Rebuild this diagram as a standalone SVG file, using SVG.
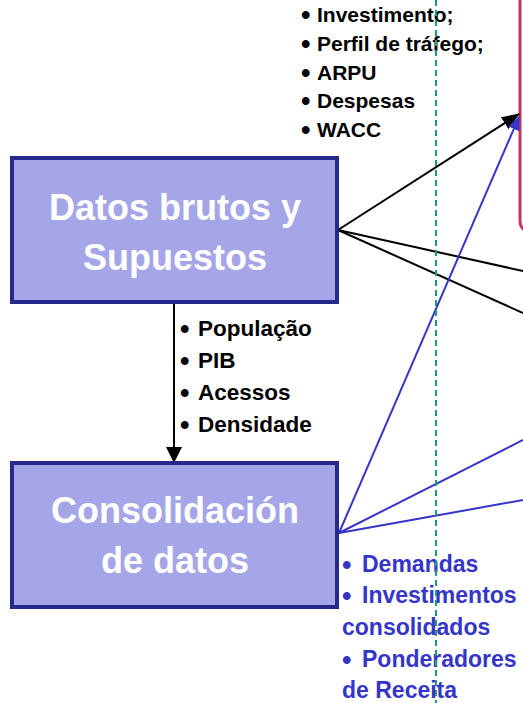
<svg xmlns="http://www.w3.org/2000/svg" width="523" height="703" viewBox="0 0 523 703">
<defs>
<style>
.box{fill:#a4a6e8;stroke:#252a8a;stroke-width:4}
.title{font-family:"Liberation Sans",Arial,sans-serif;font-weight:bold;font-size:36px;fill:#ffffff;text-anchor:middle}
.lbl{font-family:"Liberation Sans",Arial,sans-serif;font-weight:bold;font-size:22.5px;fill:#000}
.top{font-size:21px}
.blue{fill:#3535c8;font-size:23px}
.bu{font-size:27px}
.bk{stroke:#000;stroke-width:2;fill:none}
.bl{stroke:#3535c8;stroke-width:2;fill:none}
</style>
<marker id="ahbig" markerWidth="18" markerHeight="14" refX="17" refY="7" orient="auto" markerUnits="userSpaceOnUse" viewBox="0 0 18 14">
<path d="M0,0 L18,7 L0,14 z" fill="#000"/>
</marker>
<marker id="ahblue" markerWidth="14" markerHeight="12" refX="13" refY="6" orient="auto" markerUnits="userSpaceOnUse" viewBox="0 0 14 12">
<path d="M0,0 L14,6 L0,12 z" fill="#3535c8"/>
</marker>
<marker id="ahdown" markerWidth="16" markerHeight="16" refX="15" refY="8" orient="auto" markerUnits="userSpaceOnUse" viewBox="0 0 16 16">
<path d="M0,0 L16,8 L0,16 z" fill="#000"/>
</marker>
</defs>
<g id="target">
<rect x="520" y="-20" width="40" height="253" rx="12" fill="#fff" stroke="#c4365c" stroke-width="3"/>
</g>
<g id="connectors">
<line class="bk" x1="338" y1="230" x2="519" y2="114" marker-end="url(#ahbig)"/>
<line class="bk" x1="338" y1="230" x2="523" y2="271"/>
<line class="bk" x1="338" y1="230" x2="523" y2="313"/>
<line class="bl" x1="339" y1="533" x2="519" y2="117" marker-end="url(#ahblue)"/>
<line class="bl" x1="339" y1="533" x2="523" y2="440"/>
<line class="bl" x1="339" y1="533" x2="523" y2="500"/>
<line class="bk" x1="174" y1="303" x2="174" y2="462" marker-end="url(#ahdown)"/>
</g>
<g id="datos">
<rect class="box" x="12" y="158" width="325" height="144"/>
<text class="title" x="175" y="220">Datos brutos y</text>
<text class="title" x="175" y="270">Supuestos</text>
</g>
<g id="consolidacion">
<rect class="box" x="12" y="463" width="325" height="144"/>
<text class="title" x="175" y="523">Consolidación</text>
<text class="title" x="175" y="573">de datos</text>
</g>
<g id="top-labels" class="lbl top">
<text class="bu" x="301" y="24">•</text><text x="317" y="22">Investimento;</text>
<text class="bu" x="301" y="53">•</text><text x="317" y="51">Perfil de tráfego;</text>
<text class="bu" x="301" y="82">•</text><text x="317" y="80">ARPU</text>
<text class="bu" x="301" y="110">•</text><text x="317" y="108">Despesas</text>
<text class="bu" x="301" y="139">•</text><text x="317" y="137">WACC</text>
</g>
<g id="mid-labels" class="lbl">
<text class="bu" x="180" y="338">•</text><text x="198" y="336">População</text>
<text class="bu" x="180" y="370">•</text><text x="198" y="368">PIB</text>
<text class="bu" x="180" y="402">•</text><text x="198" y="400">Acessos</text>
<text class="bu" x="180" y="434">•</text><text x="198" y="432">Densidade</text>
</g>
<g id="bottom-labels" class="lbl blue">
<text class="bu" x="342" y="574">•</text><text x="362" y="572">Demandas</text>
<text class="bu" x="342" y="605">•</text><text x="362" y="603">Investimentos</text>
<text x="342" y="635">consolidados</text>
<text class="bu" x="342" y="669">•</text><text x="362" y="667">Ponderadores</text>
<text x="342" y="698">de Receita</text>
</g>
<line id="divider" x1="436" y1="0" x2="436" y2="703" stroke="#1a9e77" stroke-width="2" stroke-dasharray="6 4"/>
</svg>
